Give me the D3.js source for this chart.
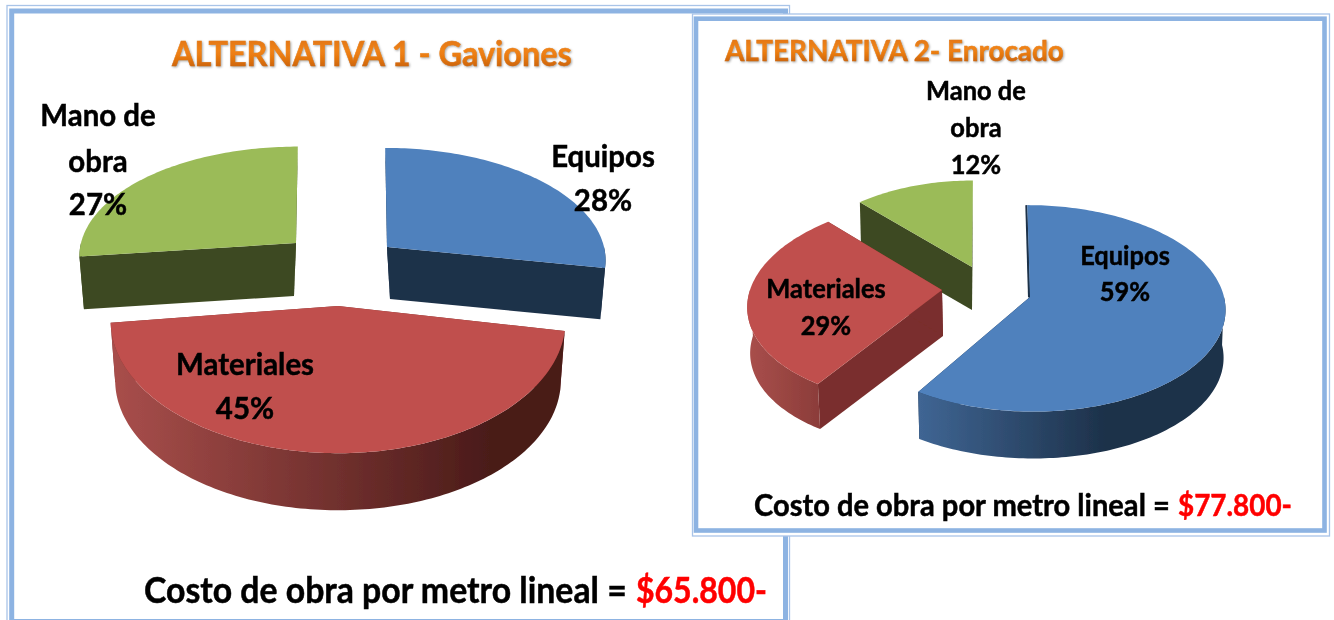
<!DOCTYPE html>
<html><head><meta charset="utf-8">
<script src="https://cdn.jsdelivr.net/npm/d3@7/dist/d3.min.js"></script>
<style>html,body{margin:0;padding:0;background:#fff;overflow:hidden}svg{display:block}text{font-family:Lato,sans-serif;font-weight:700}</style>
</head><body><svg id="c" width="1334" height="620"></svg>
<script>
const categories = ["Equipos", "Materiales", "Mano de obra"];
const valuesGaviones = [28, 45, 27];
const valuesEnrocado = [59, 29, 12];
const titleGaviones = "ALTERNATIVA 1 - Gaviones";
const titleEnrocado = "ALTERNATIVA 2- Enrocado";
const costLabel = "Costo de obra por metro lineal =";
const costGaviones = "$65.800-";
const costEnrocado = "$77.800-";

// Layout of each exploded wedge: apex, radii, perspective, wall depth
const layoutGaviones = [
  {ax:387,ay:247,rx:217,ry:110,p:.11,sk:-2,depth:52,shrink:.965,dx:3},
  {ax:338,ay:306,rx:226,ry:131,p:.11,sk:0,depth:60,shrink:.98,dx:0},
  {ax:296,ay:243,rx:215,ry:107,p:.11,sk:2,depth:53,shrink:.97,dx:-2}
];
const layoutEnrocado = [
  {ax:1030,ay:297,rx:194,ry:102,p:.11,sk:-3,depth:48,shrink:.99,dx:0,edge:true},
  {ax:942,ay:290,rx:192,ry:101,p:.11,sk:11.5,depth:46,shrink:.99,dx:1},
  {ax:972,ay:267,rx:178,ry:96,p:.11,sk:1,depth:43,shrink:.99,dx:0}
];
const tops = ["#4f81bd","#c0504d","#9bbb59"];
const radialWalls = ["#1c3048","#7a2f2d","#3e4a20"];

const svg = d3.select("#c");
const defs = svg.append("defs");
function grad(id,x1,x2,c1,c2){
  const g=defs.append("linearGradient").attr("id",id).attr("gradientUnits","userSpaceOnUse")
    .attr("x1",x1).attr("x2",x2).attr("y1",0).attr("y2",0);
  g.append("stop").attr("offset",0).attr("stop-color",c1);
  g.append("stop").attr("offset",1).attr("stop-color",c2);
}
grad("gRed1",115,490,"#a84e4b","#4a1b19");
grad("gRed2",750,830,"#a84e4b","#873a37");
grad("gBlue2",920,1110,"#3f6593","#1c3048");
grad("gBlue1",590,610,"#1c3048","#1c3048");
grad("gGreen",80,100,"#3e4a20","#3e4a20");
const tg=defs.append("linearGradient").attr("id","gTitle").attr("x1",0).attr("x2",0).attr("y1",0).attr("y2",1);
[[0,"#d96d12"],[.45,"#f08316"],[.6,"#e97a10"],[1,"#b9560d"]].forEach(s=>tg.append("stop").attr("offset",s[0]).attr("stop-color",s[1]));
const soft=defs.append("filter").attr("id","soft").attr("x","-5%").attr("y","-5%").attr("width","110%").attr("height","110%");
soft.append("feGaussianBlur").attr("stdDeviation",.55);
const shadow=defs.append("filter").attr("id","tshadow").attr("x","-5%").attr("y","-20%").attr("width","110%").attr("height","140%");
shadow.append("feGaussianBlur").attr("stdDeviation",1);

const pie=d3.pie().sort(null).value(d=>d);
const line=d3.line().x(d=>d[0]).y(d=>d[1]);

function pt(s,t,r,low){
  const u=r*Math.sin(t),v=r*Math.cos(t),w=1+s.p*v,k=low?s.shrink:1;
  return [s.ax+k*(s.rx*u+s.sk*v)/w+(low?s.dx:0), s.ay-k*s.ry*v/w+(low?s.depth:0)];
}
function arcSamples(a,b){const n=Math.max(2,Math.ceil((b-a)/0.02));return d3.range(n+1).map(i=>a+(b-a)*i/n);}

function frame(o,i,sw){
  svg.append("rect").attr("x",o[0]).attr("y",o[1]).attr("width",o[2]-o[0]).attr("height",o[3]-o[1]).attr("fill","#fff").attr("stroke","#a9c4e8").attr("stroke-width",1.3);
  svg.append("rect").attr("x",i[0]).attr("y",i[1]).attr("width",i[2]-i[0]).attr("height",i[3]-i[1]).attr("fill","none").attr("stroke","#8db3e2").attr("stroke-width",sw);
}

function drawPie(values,layout,order,wallFills){
  const g=svg.append("g").attr("filter","url(#soft)");
  const arcs=pie(values);
  order.forEach(i=>{
    const a=arcs[i],s=layout[i],t0=a.startAngle,t1=a.endAngle;
    const top=[pt(s,0,0,false)].concat(arcSamples(t0,t1).map(t=>pt(s,t,1,false)));
    [t0,t1].forEach(t=>{
      g.append("path").attr("d",line([pt(s,0,0,false),pt(s,t,1,false),pt(s,t,1,true),pt(s,0,0,true)])+"Z").attr("fill",radialWalls[i]);
    });
    const lo=Math.max(t0,Math.PI/2),hi=Math.min(t1,3*Math.PI/2);
    if(hi>lo){
      const ss=arcSamples(lo,hi);
      g.append("path").attr("d",line(ss.map(t=>pt(s,t,1,false)).concat(ss.slice().reverse().map(t=>pt(s,t,1,true))))+"Z").attr("fill",wallFills[i]);
    }
    if(s.edge){
      g.append("path").attr("d",line([pt(s,0,1,false),pt(s,0,0,false)])).attr("fill","none").attr("stroke",radialWalls[i]).attr("stroke-width",2).attr("transform","translate(-1,0)");
    }
    g.append("path").attr("d",line(top)+"Z").attr("fill",tops[i]);
  });
}
function multi(cx,ys,lines,size,kx){
  const g=svg.append("g").attr("filter","url(#soft)");
  lines.forEach((l,i)=>g.append("text").attr("transform",`translate(${cx},${ys[i]}) scale(${kx},1)`).attr("text-anchor","middle").attr("font-size",size)
    .attr("fill","#000").attr("stroke","#000").attr("stroke-width",.5).text(l));
}
// Place a text so its drawn width equals the width
function fitted(x,y,txt,size,len,fill,filter){
  const t=svg.append("text").attr("font-size",size).attr("fill",fill).attr("stroke",fill).attr("stroke-width",.5).attr("filter",filter).text(txt);
  const k=len/t.node().getComputedTextLength();
  t.attr("transform",`translate(${x},${y}) scale(${k},1)`);
  return t;
}
function title(x,y,txt,size,len){
  fitted(x+1,y+1,txt,size,len,"#a8a8a8","url(#tshadow)");
  fitted(x,y,txt,size,len,"url(#gTitle)","url(#soft)");
}
function cost(x,y,size,val,len,redX,redLen){
  fitted(x,y,costLabel,size,len,"#000","url(#soft)");
  fitted(redX,y,val,size,redLen,"#f00","url(#soft)");
}
const pctLabel=(i,vals)=>vals[i]+"%";

function render(){
frame([7,5.5,789.5,640],[11.7,11,785.5,621.5],5);
drawPie(valuesGaviones,layoutGaviones,[2,0,1],["url(#gBlue1)","url(#gRed1)","url(#gGreen)"]);
title(172,66,titleGaviones,34,400);
multi(98,[126,172,215],["Mano de","obra",pctLabel(2,valuesGaviones)],31,.95);
multi(603,[167,211],[categories[0],pctLabel(0,valuesGaviones)],31,.95);
multi(245,[375,419],[categories[1],pctLabel(1,valuesGaviones)],31,.95);
cost(144,603,36,costGaviones,483,636,131);

frame([692.5,14,1329.5,536],[696,18.7,1324.5,530.5],4.6);
drawPie(valuesEnrocado,layoutEnrocado,[2,1,0],["url(#gBlue2)","url(#gRed2)","url(#gGreen)"]);
title(725,61,titleEnrocado,28.5,339);
multi(976,[100,137,174],["Mano de","obra",pctLabel(2,valuesEnrocado)],26.5,.96);
multi(1125,[265,301],[categories[0],pctLabel(0,valuesEnrocado)],26.5,.96);
multi(826,[298,335],[categories[1],pctLabel(1,valuesEnrocado)],26.5,.96);
cost(754,516,31,costEnrocado,416,1178,114);
}
render();
</script></body></html>
